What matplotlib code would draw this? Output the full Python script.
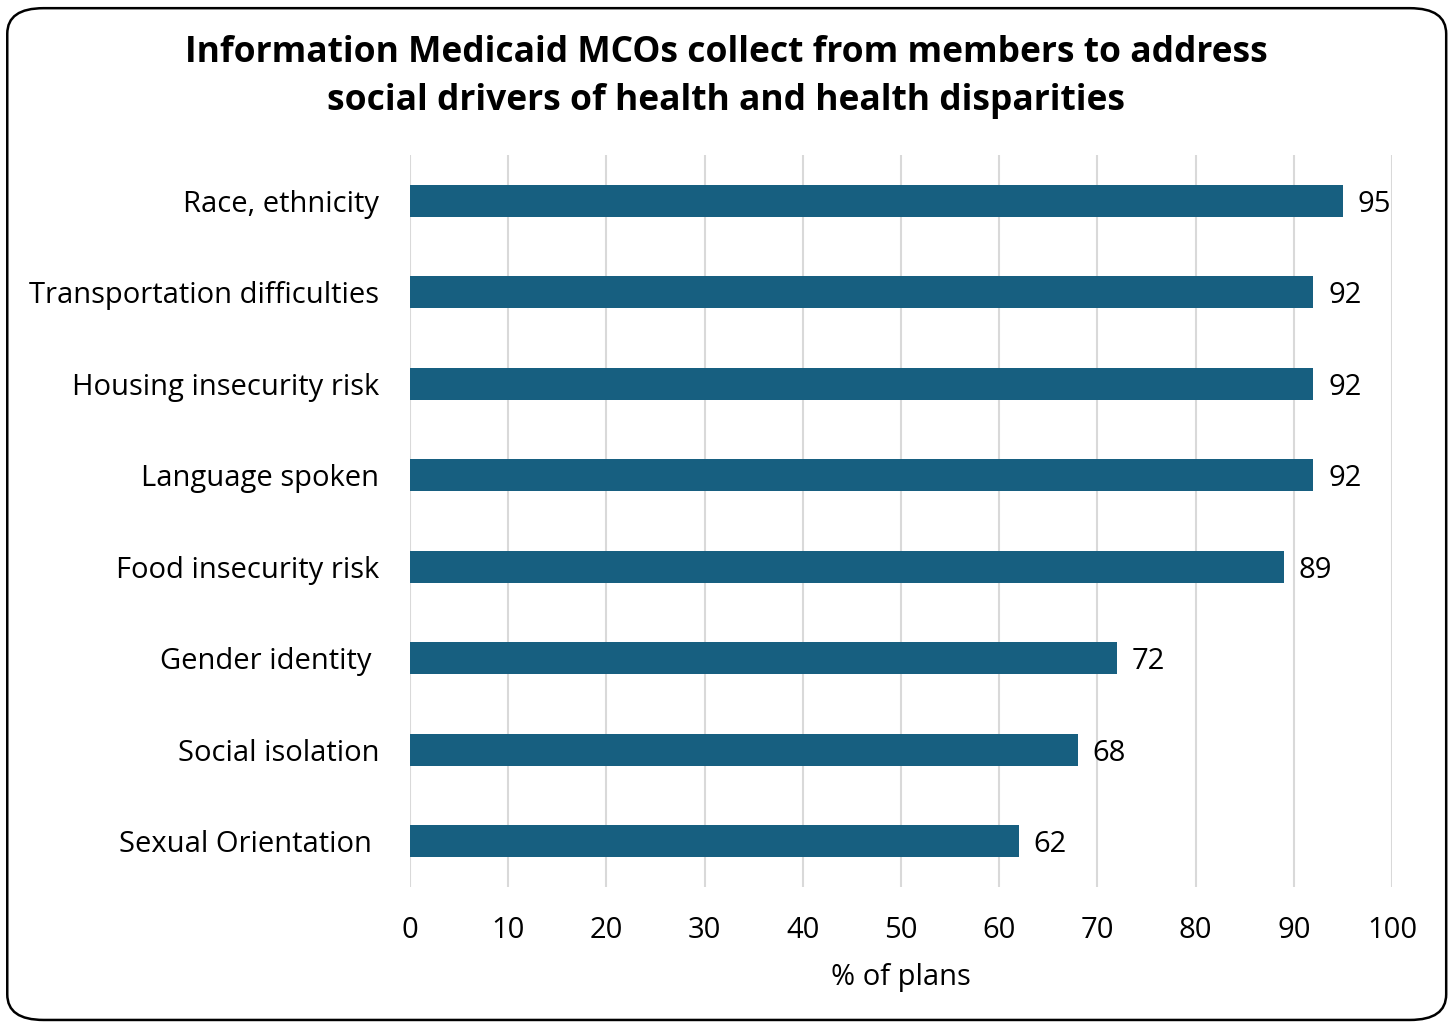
import matplotlib.pyplot as plt
from matplotlib.patches import FancyBboxPatch

# --- Data ---
categories = [
    "Race, ethnicity",
    "Transportation difficulties",
    "Housing insecurity risk",
    "Language spoken",
    "Food insecurity risk",
    "Gender identity ",
    "Social isolation",
    "Sexual Orientation ",
]
pct_of_plans = [95, 92, 92, 92, 89, 72, 68, 62]
x_ticks = [0, 10, 20, 30, 40, 50, 60, 70, 80, 90, 100]

title = ("Information Medicaid MCOs collect from members to address\n"
         "social drivers of health and health disparities")

bar_color = "#175F80"
grid_color = "#D9D9D9"

plt.rcParams["font.family"] = ["Open Sans", "DejaVu Sans"]

fig = plt.figure(figsize=(14.52, 10.22), dpi=100)
ax = fig.add_axes([0.2824, 0.1321, 0.6763, 0.7162])

y_pos = list(range(len(categories)))
ax.barh(y_pos, pct_of_plans, height=0.35, color=bar_color, zorder=3)

for y, v in zip(y_pos, pct_of_plans):
    ax.text(v + 1.5, y, f"{v}", va="center_baseline", ha="left",
            fontsize=21, color="black")

ax.set_xlim(0, 100)
ax.set_ylim(len(categories) - 0.5, -0.5)
ax.set_yticks(y_pos)
ax.set_yticklabels(categories, fontsize=21)
ax.set_xticks(x_ticks)
ax.set_xticklabels([str(t) for t in x_ticks], fontsize=21)
ax.tick_params(axis="y", length=0, pad=22)
ax.tick_params(axis="x", length=0, pad=21)
ax.set_xlabel("% of plans", fontsize=21, labelpad=13)

ax.grid(axis="x", color=grid_color, linewidth=1.5, zorder=0)
for s in ax.spines.values():
    s.set_visible(False)

fig.text(0.5, 0.884, title, ha="center", va="bottom", fontsize=25.5,
         fontweight="bold", linespacing=1.42)

# Rounded outer frame
frame = FancyBboxPatch((0.005, 0.002), 0.991, 0.99,
                       boxstyle="round,pad=0,rounding_size=0.025",
                       transform=fig.transFigure, fill=False,
                       edgecolor="black", linewidth=1.8)
fig.patches.append(frame)

fig.savefig("out.png", dpi=100)
plt.close(fig)
